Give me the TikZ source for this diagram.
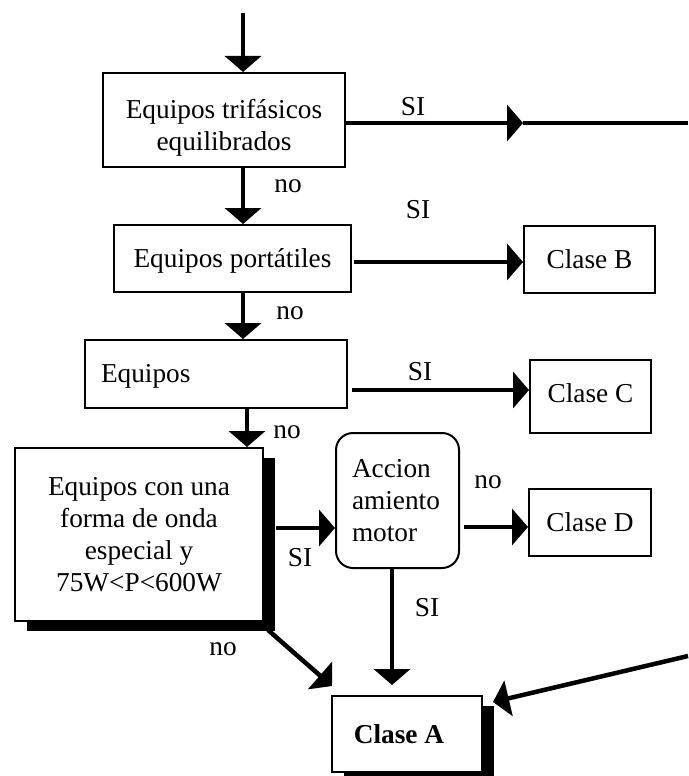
\documentclass[tikz,border=0pt]{standalone}
\usepackage{fontspec}
\setmainfont{Liberation Serif}
\usetikzlibrary{arrows.meta,shadows}
\newcommand\bigtext{\fontsize{27.3}{32}\selectfont}
\tikzset{
  box/.style={draw, line width=2pt, fill=white, inner sep=0pt, align=center, font=\bigtext},
  shadowed/.style={drop shadow={shadow xshift=12pt, shadow yshift=-10pt, fill=black, opacity=1}},
  lbl/.style={inner sep=0pt, font=\bigtext},
  arr/.style={line width=4.5pt, -{Triangle[length=16pt,width=36pt]}},
  ln/.style={line width=4.5pt}
}
\begin{document}
\begin{tikzpicture}[x=1pt,y=-1pt]
\useasboundingbox (0,0) rectangle (688,776);

% decision and class boxes (the zero-width struts shift the text lines)
\node[box, minimum width=242pt, minimum height=94pt] (b1) at (224,120)
  {\rule{0pt}{35pt}Equipos trifásicos\\equilibrados};
\node[box, minimum width=237pt, minimum height=67pt] (b2) at (232.5,258.5)
  {\rule{0pt}{24pt}Equipos portátiles};
\node[box, minimum width=131pt, minimum height=67pt] (cB) at (589.5,259.5) {Clase B};
\node[box, text width=230pt, inner xsep=16pt, align=left, minimum height=68pt] (b3) at (216,374)
  {\rule{0pt}{22pt}Equipos};
\node[box, minimum width=121pt, minimum height=73pt] (cC) at (590.5,396.5)
  {Clase C\rule[-6pt]{0pt}{6pt}};
\node[box, shadowed, minimum width=248pt, minimum height=173pt] (b4) at (139,534.5)
  {Equipos con una\\forma de onda\\especial y\\75W<P<600W};
\node[box, rounded corners=17pt, text width=91pt, inner xsep=16pt, align=left,
  minimum height=135pt] (acc) at (397.5,500.5) {Accion\\amiento\\motor};
\node[box, minimum width=122pt, minimum height=67pt] (cD) at (590,522.5) {Clase D};
\node[box, shadowed, minimum width=150pt, minimum height=76pt, font=\bigtext\bfseries] (cA)
  at (407,734) {Clase A\hspace*{16pt}};

% helper points for connector rows and columns
\coordinate (top) at (243,13);
\coordinate (xb) at (247,408);
\coordinate (m1) at (523,123);
\coordinate (eTop) at (688,123);
\coordinate (r2) at (354,262);
\coordinate (r3) at (352,390);
\coordinate (r4) at (276,528);
\coordinate (r5) at (464,527);
\coordinate (xa) at (392,568);
\coordinate (eBot) at (688,656);

% connectors
\draw[arr] (top) -- (top |- b1.north);
\draw[arr] (b1.south -| top) -- (b2.north -| top);
\draw[arr] (b1.east |- m1) -- (m1);
\draw[ln] (m1) -- (eTop);
\draw[arr] (r2) -- (r2 -| cB.west);
\draw[arr] (b2.south -| top) -- (b3.north -| top);
\draw[arr] (r3) -- (r3 -| cC.west);
\draw[arr] (xb |- b3.south) -- (xb |- b4.north);
\draw[arr] (r4) -- (r4 -| acc.west);
\draw[arr] (r5) -- (r5 -| cD.west);
\draw[arr, shorten >=10pt] (xa |- acc.south) -- (xa |- cA.north);
\draw[arr] ([xshift=4pt,yshift=-8pt]b4.south east) -- ([xshift=1pt,yshift=9pt]cA.north west);
\draw[arr] (eBot) -- ([xshift=10pt,yshift=-7pt]cA.north east);

% branch labels
\node[lbl] (l1) at (413,107) {SI};
\node[lbl] (l2) at (288,186) {no};
\node[lbl] (l3) at (418,210) {SI};
\node[lbl] (l4) at (290,313) {no};
\node[lbl] (l5) at (420,372) {SI};
\node[lbl] (l6) at (287,432) {no};
\node[lbl] (l7) at (488,482) {no};
\node[lbl] (l8) at (300,558) {SI};
\node[lbl] (l9) at (427,608) {SI};
\node[lbl] (l10) at (223,649) {no};
\end{tikzpicture}
\end{document}
